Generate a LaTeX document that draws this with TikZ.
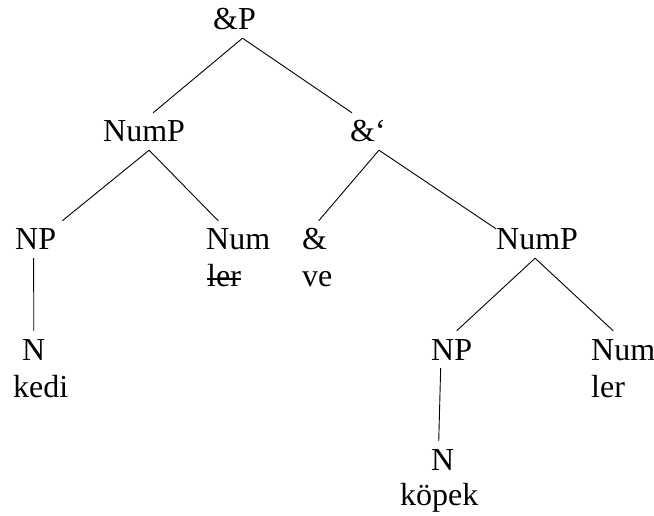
\documentclass[tikz,border=0pt]{standalone}
\usepackage{fontspec}
\setmainfont{Liberation Serif}
\usepackage{tikz}

\newsavebox{\strkbox}
\newcommand{\strk}[1]{\sbox{\strkbox}{#1}\rlap{\rule[6.5pt]{\wd\strkbox}{1.4pt}}\usebox{\strkbox}}

\begin{document}
\begin{tikzpicture}[
    x=1pt, y=-1pt,
    cat/.style={anchor=base west, inner xsep=0pt, inner ysep=8pt, text height=21pt, text depth=0pt, font=\fontsize{32}{37}\selectfont},
    word/.style={cat},
    branch/.style={line width=0.9pt}
]
    \useasboundingbox (0,0) rectangle (654,516);

    % category labels
    \node[cat] (andP) at (213,30) {\&P};
    \node[cat] (numpL) at (103,142) {NumP};
    \node[cat] (andBar) at (350,142) {\&‘};
    \node[cat] (npL) at (15,250) {NP};
    \node[cat] (numL) at (206,250) {Num};
    \node[cat] (andC) at (302,250) {\&};
    \node[cat] (numpR) at (496,250) {NumP};
    \node[cat] (nL) at (22,360) {N};
    \node[cat] (npR) at (431,360) {NP};
    \node[cat] (numR) at (591,360) {Num};
    \node[cat] (nR) at (431,470) {N};

    % words
    \node[word] (lerL) at (207,286) {\strk{ler}};
    \node[word] (ve) at (302,286) {ve};
    \node[word] (kedi) at (13,397) {kedi};
    \node[word] (lerR) at (591,397) {ler};
    \node[word] (kopek) at (400,505) {köpek};

    % branches
    \draw[branch] ([xshift=8pt]andP.south) -- ([xshift=9pt]numpL.north);
    \draw[branch] ([xshift=8pt]andP.south) -- ([xshift=-16pt]andBar.north);
    \draw[branch] ([xshift=5pt]numpL.south) -- ([xshift=6pt]npL.north east);
    \draw[branch] ([xshift=5pt]numpL.south) -- ([xshift=-20pt]numL.north);
    \draw[branch] ([xshift=11pt]andBar.south) -- ([xshift=4pt]andC.north);
    \draw[branch] ([xshift=11pt]andBar.south) -- ([yshift=-8pt]numpR.north west);
    \draw[branch] ([xshift=-2pt]npL.south) -- (nL.north);
    \draw[branch] ([xshift=-2pt]numpR.south) -- ([xshift=5pt]npR.north);
    \draw[branch] ([xshift=-2pt]numpR.south) -- ([xshift=-10pt]numR.north);
    \draw[branch] ([xshift=-11pt]npR.south) -- ([xshift=-4pt]nR.north);
\end{tikzpicture}
\end{document}
